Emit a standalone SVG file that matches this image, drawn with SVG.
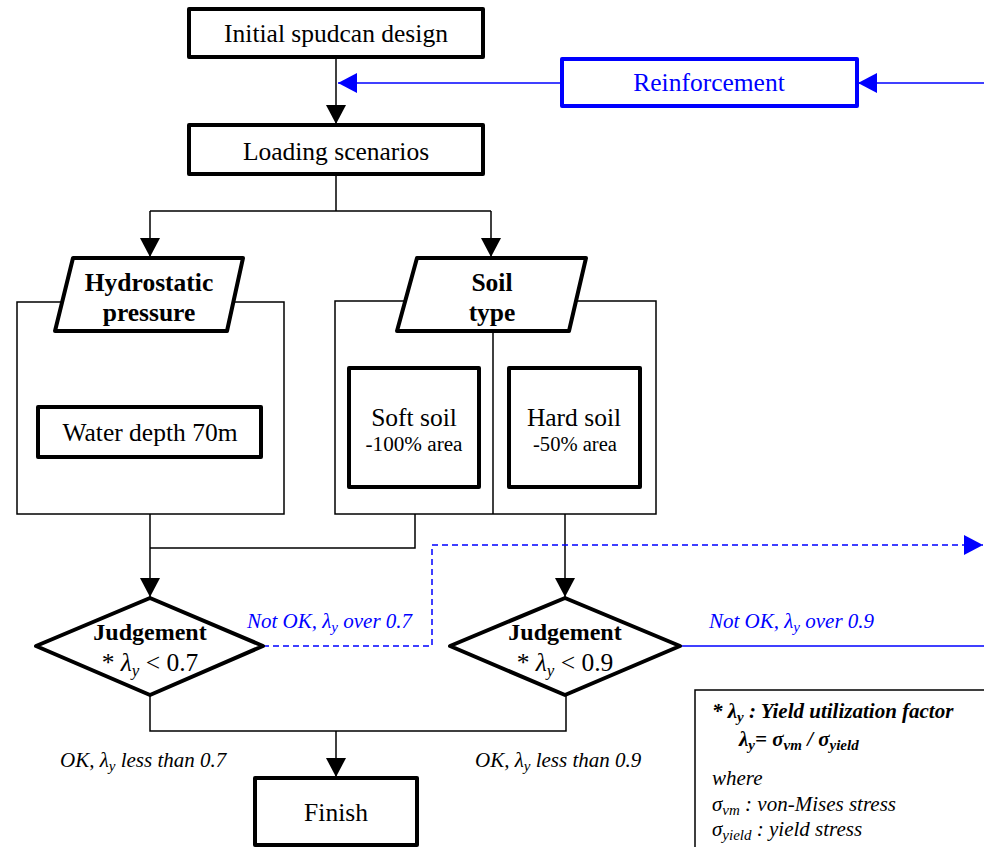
<svg xmlns="http://www.w3.org/2000/svg" width="984" height="847" viewBox="0 0 984 847">
<defs>
<style>
.bg{fill:#fff}
.box{fill:#fff;stroke:#000;stroke-width:4;stroke-linejoin:round}
.thin{fill:none;stroke:#000;stroke-width:1.5}
.bbox{fill:#fff;stroke:#0000ff;stroke-width:4;stroke-linejoin:round}
.t{font-family:"Liberation Serif","Times New Roman",serif;font-size:25.5px;fill:#000;text-anchor:middle}
.tb{font-family:"Liberation Serif","Times New Roman",serif;font-size:25.5px;font-weight:bold;fill:#000;text-anchor:middle}
.ts{font-family:"Liberation Serif","Times New Roman",serif;font-size:20px;fill:#000;text-anchor:middle}
.ti{font-family:"Liberation Serif","Times New Roman",serif;font-size:21px;font-style:italic;fill:#000}
.tbl{font-family:"Liberation Serif","Times New Roman",serif;font-size:21px;font-style:italic;fill:#0000ff}
.tl{font-family:"Liberation Serif","Times New Roman",serif;font-size:21px;font-style:italic;font-weight:bold;fill:#000}
.c{fill:none;stroke:#000;stroke-width:1.5}
.cb{fill:none;stroke:#0000ff;stroke-width:1.5}
.cbd{fill:none;stroke:#0000ff;stroke-width:1.5;stroke-dasharray:6,4}
</style>
<marker id="ah" markerUnits="userSpaceOnUse" markerWidth="20" markerHeight="20" refX="19" refY="10" orient="auto">
<path d="M0,0 L19,10 L0,20 z" fill="#000"/>
</marker>
<marker id="ahb" markerUnits="userSpaceOnUse" markerWidth="20" markerHeight="20" refX="19" refY="10" orient="auto">
<path d="M0,0 L19,10 L0,20 z" fill="#0000ff"/>
</marker>
</defs>
<rect class="bg" x="0" y="0" width="984" height="847"/>

<g id="connectors">
<path class="c" d="M336,57 V124" marker-end="url(#ah)"/>
<path class="cb" d="M562,83 H338" marker-end="url(#ahb)"/>
<path class="cb" d="M990,83 H858" marker-end="url(#ahb)"/>
<path class="c" d="M336,174 V211 M150,211 H491"/>
<path class="c" d="M150,211 V257" marker-end="url(#ah)"/>
<path class="c" d="M491,211 V257" marker-end="url(#ah)"/>
<path class="c" d="M415,514 V548 H150"/>
<path class="c" d="M150,514 V597" marker-end="url(#ah)"/>
<path class="c" d="M565,514 V597" marker-end="url(#ah)"/>
<path class="cbd" d="M263,646 H432 V545 H983" marker-end="url(#ahb)"/>
<path class="cb" d="M680,646 H990"/>
<path class="c" d="M150,695 V731 H566 V695"/>
<path class="c" d="M336,731 V777" marker-end="url(#ah)"/>
</g>

<g id="initial">
<rect class="box" x="189" y="9" width="294" height="48"/>
<text class="t" x="336" y="42">Initial spudcan design</text>
</g>

<g id="reinforcement">
<rect class="bbox" x="562" y="59" width="295" height="47"/>
<text class="t" x="709" y="91" style="fill:#0000ff">Reinforcement</text>
</g>

<g id="loading">
<rect class="box" x="189" y="125" width="294" height="49"/>
<text class="t" x="336" y="160">Loading scenarios</text>
</g>

<g id="hydrostatic">
<rect class="thin" x="17" y="302" width="267" height="212"/>
<polygon class="box" points="73,258 243,258 227,331 55,331"/>
<text class="tb" x="149" y="291">Hydrostatic</text>
<text class="tb" x="149" y="321">pressure</text>
</g>

<g id="water">
<rect class="box" x="38" y="407" width="223" height="50"/>
<text class="t" x="150" y="441">Water depth 70m</text>
</g>

<g id="soil">
<rect class="thin" x="335" y="301" width="321" height="213"/>
<line class="thin" x1="493" y1="331" x2="493" y2="514"/>
<polygon class="box" points="417,258 586,258 569,331 397,331"/>
<text class="tb" x="492" y="291">Soil</text>
<text class="tb" x="492" y="321">type</text>
</g>

<g id="soft">
<rect class="box" x="349" y="368" width="130" height="119"/>
<text class="t" x="414" y="426">Soft soil</text>
<text class="ts" x="414" y="451" textLength="97" lengthAdjust="spacingAndGlyphs">-100% area</text>
</g>

<g id="hard">
<rect class="box" x="509" y="368" width="131" height="119"/>
<text class="t" x="574" y="426">Hard soil</text>
<text class="ts" x="575" y="451" textLength="84" lengthAdjust="spacingAndGlyphs">-50% area</text>
</g>

<g id="judge1">
<polygon class="box" points="150,598 263,646 150,695 36,646"/>
<text class="tb" x="150" y="640" style="font-size:24px">Judgement</text>
<text class="t" x="150" y="671">* <tspan font-style="italic">λ</tspan><tspan font-style="italic" font-size="17" dy="5">y</tspan><tspan dy="-5"> &lt; 0.7</tspan></text>
</g>

<g id="judge2">
<polygon class="box" points="565,598 680,646 565,695 450,646"/>
<text class="tb" x="565" y="640" style="font-size:24px">Judgement</text>
<text class="t" x="565" y="671">* <tspan font-style="italic">λ</tspan><tspan font-style="italic" font-size="17" dy="5">y</tspan><tspan dy="-5"> &lt; 0.9</tspan></text>
</g>

<g id="finish">
<rect class="box" x="255" y="778" width="162" height="67"/>
<text class="t" x="336" y="821">Finish</text>
</g>

<g id="labels">
<text class="tbl" x="247" y="628">Not OK, λ<tspan font-size="15" dy="4">y</tspan><tspan dy="-4"> over 0.7</tspan></text>
<text class="tbl" x="709" y="628">Not OK, λ<tspan font-size="15" dy="4">y</tspan><tspan dy="-4"> over 0.9</tspan></text>
<text class="ti" x="60" y="767">OK, λ<tspan font-size="15" dy="4">y</tspan><tspan dy="-4"> less than 0.7</tspan></text>
<text class="ti" x="475" y="767">OK, λ<tspan font-size="15" dy="4">y</tspan><tspan dy="-4"> less than 0.9</tspan></text>
</g>

<g id="legend">
<rect class="thin" x="695" y="690" width="300" height="200"/>
<text class="tl" x="712" y="718">* λ<tspan font-size="15" dy="4">y</tspan><tspan dy="-4"> : Yield utilization factor</tspan></text>
<text class="tl" x="739" y="746">λ<tspan font-size="15" dy="4">y</tspan><tspan dy="-4">= σ</tspan><tspan font-size="15" dy="4">vm</tspan><tspan dy="-4"> / σ</tspan><tspan font-size="15" dy="4">yield</tspan></text>
<text class="ti" x="712" y="785">where</text>
<text class="ti" x="712" y="811">σ<tspan font-size="15" dy="4">vm</tspan><tspan dy="-4"> : von-Mises stress</tspan></text>
<text class="ti" x="712" y="836">σ<tspan font-size="15" dy="4">yield</tspan><tspan dy="-4"> : yield stress</tspan></text>
</g>
</svg>
